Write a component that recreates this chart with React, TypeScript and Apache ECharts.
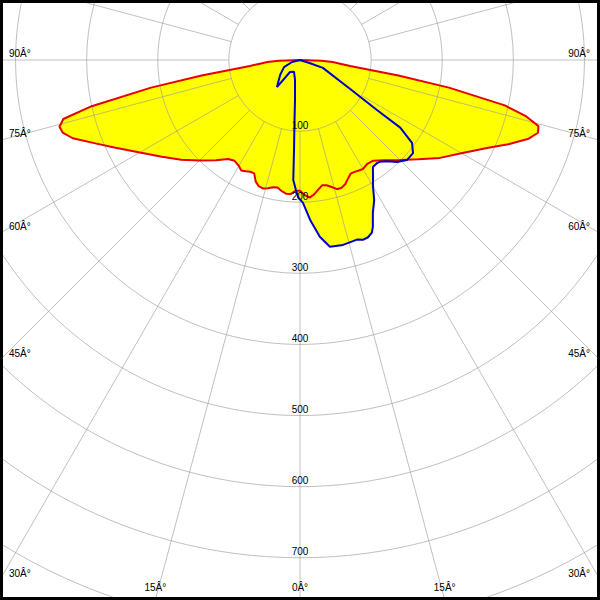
import React, { useEffect, useRef } from 'react';
import * as echarts from 'echarts';

// C0-C180 plane (red, filled): gamma angle from nadir, intensity on left and right side
const redAngles = [0, 2, 4, 6, 8, 10, 12, 14, 16, 18, 20, 22, 24, 26, 28, 30, 33, 36, 40, 45, 50, 55, 60, 65, 68, 71, 73, 74.5, 76, 77.5, 79.5, 81, 82, 83.2, 85, 86.5, 88, 90];
const redLeft = [184, 184, 189, 189, 186, 182, 183, 186, 188, 187, 182, 172, 172, 174, 176, 172, 169, 172, 184, 200, 218, 237, 260, 290, 312, 338, 349, 351, 343, 300, 213, 140, 100, 71, 55, 46, 30, 0];
const redRight = [184, 190, 194, 190, 184, 179, 180, 184, 189, 189, 186, 180, 175, 175, 176, 177, 174, 175, 184, 199, 217, 240, 262, 292, 316, 340, 350, 348, 328, 295, 213, 140, 100, 71, 55, 46, 30, 0];

// C90-C270 plane (blue): signed gamma (positive = left side), in drawing order
const blueAngles = [76, 76, 66, 53, 40.4, 39.8, 27, 14, 7.1, 5.2, 3.8, 3.2, 1.8, 0.8, -1.2, -3.6, -6.4, -9.1, -13.1, -17.6, -19.3, -21, -22.6, -23.6, -25.5, -27.9, -29.9, -32.9, -34.3, -36.8, -38.1, -40.7, -43.6, -46.9, -50.5, -53.5, -56, -57, -60, -71, -72, -80];
const blueValues = [0, 11.6, 24.6, 35, 50, 22, 18.5, 29, 57, 85, 127, 169, 183, 193, 201, 225, 250, 266, 267, 265, 268, 267, 263, 256, 238, 223, 206, 189, 182, 181, 182, 188, 198, 206, 206, 196, 170, 129, 81, 34, 15, 0];

const radiusTicks = [100, 200, 300, 400, 500, 600, 700];
const angleTicks = [0, 15, 30, 45, 60, 75, 90];
const gridAngles = [0, 15, 30, 45, 60, 75, 90, 105, 120, 135, 150, 165, 180, 195, 210, 225, 240, 255, 270, 285, 300, 315, 330, 345];

const toTheta = (g: number) => (g >= 0 ? g : 360 + g);

const redData: number[][] = [
  ...redAngles.map((g, i) => [redLeft[i], g]).reverse(),
  ...redAngles.map((g, i) => [redRight[i], 360 - g]),
];
const blueData: number[][] = blueAngles.map((g, i) => [blueValues[i], toTheta(g)]);

const gridColor = 'rgba(150,150,150,0.6)';
const font = '10px "Liberation Sans", Arial, sans-serif';

export default function App() {
  const ref = useRef<HTMLDivElement>(null);
  useEffect(() => {
    const chart = echarts.init(ref.current!, undefined, { renderer: 'svg' });
    const option: any = {
      animation: false,
      backgroundColor: '#ffffff',
      polar: { center: [300, 60], radius: 640 },
      angleAxis: {
        type: 'value', min: 0, max: 360, startAngle: 270, clockwise: true,
        axisLine: { show: false }, axisTick: { show: false }, axisLabel: { show: false }, splitLine: { show: false },
      },
      radiusAxis: {
        type: 'value', min: 0, max: 900, interval: 100, z: 3,
        axisLine: { show: false }, axisTick: { show: false }, axisLabel: { show: false },
        splitLine: { show: true, lineStyle: { color: gridColor, width: 1 } },
      },
      graphic: [
        { type: 'rect', z: 100, silent: true, shape: { x: 1.5, y: 1.5, width: 597, height: 597 }, style: { fill: 'none', stroke: '#000', lineWidth: 3 } },
      ],
      series: [
        {
          type: 'custom', coordinateSystem: 'polar', z: 1, silent: true,
          data: [[0, 0]],
          renderItem: (_p: any, api: any) => ({
            type: 'group',
            children: [
              { type: 'polygon', shape: { points: redData.map((d) => api.coord(d)) }, style: { fill: '#ffff00' } },
              { type: 'polygon', shape: { points: blueData.map((d) => api.coord(d)) }, style: { fill: '#ffff00' } },
            ],
          }),
        },
        {
          type: 'custom', coordinateSystem: 'polar', z: 3, silent: true,
          data: gridAngles.map((a) => [100, a]),
          renderItem: (_p: any, api: any) => {
            const a = api.value(1);
            const p1 = api.coord([api.value(0), a]);
            const p2 = api.coord([1000, a]);
            return { type: 'line', shape: { x1: p1[0], y1: p1[1], x2: p2[0], y2: p2[1] }, style: { stroke: gridColor, lineWidth: 1 } };
          },
        },
        {
          type: 'line', coordinateSystem: 'polar', data: redData, showSymbol: false, symbol: 'none', clip: false, silent: true, z: 5,
          lineStyle: { color: '#e60000', width: 2 },
        },
        {
          type: 'line', coordinateSystem: 'polar', data: blueData, showSymbol: false, symbol: 'none', clip: false, silent: true, z: 6,
          lineStyle: { color: '#0000c8', width: 2 },
        },
        {
          type: 'custom', coordinateSystem: 'polar', z: 7, silent: true,
          data: radiusTicks.map((v) => [v, 0]),
          renderItem: (_p: any, api: any) => {
            const v = api.value(0);
            const p = api.coord([v, 0]);
            return { type: 'text', x: p[0], y: p[1] - 6, style: { text: String(v), fill: '#000', font, align: 'center', verticalAlign: 'middle' } };
          },
        },
        {
          type: 'custom', coordinateSystem: 'polar', z: 7, silent: true,
          data: angleTicks.flatMap((g) => (g === 0 ? [[1000, 0, 0]] : [[1000, g, g], [1000, 360 - g, g]])),
          renderItem: (_p: any, api: any) => {
            const th = api.value(1);
            const g = api.value(2);
            const c = api.coord([0, th]);
            const f = api.coord([1000, th]);
            const dx = f[0] - c[0];
            const dy = f[1] - c[1];
            const W = 600, H = 600;
            let tx = Infinity, ty = Infinity;
            if (Math.abs(dx) > 1e-6) tx = dx < 0 ? (0 - c[0]) / dx : (W - c[0]) / dx;
            if (Math.abs(dy) > 1e-6) ty = dy < 0 ? (0 - c[1]) / dy : (H - c[1]) / dy;
            let x: number, y: number, align: string;
            if (tx < ty) {
              const ey = c[1] + tx * dy;
              y = ey - 6.5;
              if (dx < 0) { x = 9; align = 'left'; } else { x = 590; align = 'right'; }
            } else {
              x = c[0] + ty * dx;
              y = 587;
              align = 'center';
            }
            return { type: 'text', x, y, style: { text: `${g}\u00C2\u00B0`, fill: '#000', font, align, verticalAlign: 'middle' } };
          },
        },
      ],
    };
    chart.setOption(option);
    return () => chart.dispose();
  }, []);
  return <div ref={ref} style={{ position: 'fixed', left: 0, top: 0, width: 600, height: 600 }} />;
}
